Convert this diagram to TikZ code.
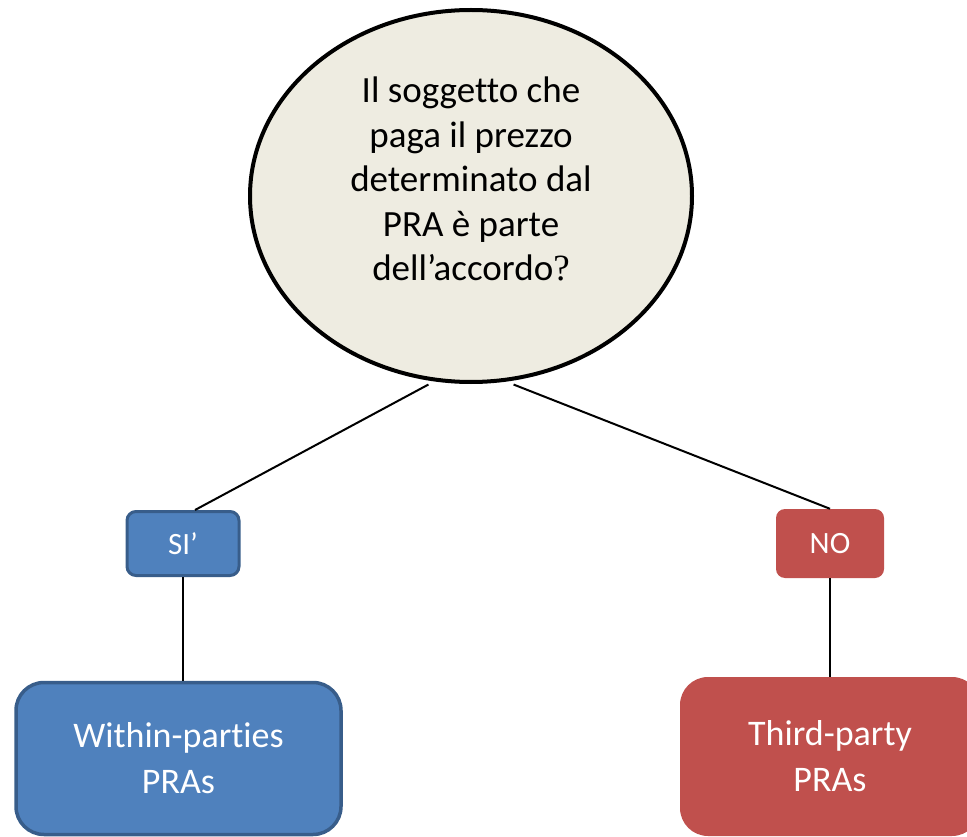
\documentclass[tikz,border=0pt]{standalone}
\usepackage{fontspec}
\setmainfont{Carlito}[Ligatures=NoCommon]
\newfontfamily\qmarkfont{Liberation Serif}
\usetikzlibrary{positioning,shapes}

\definecolor{qfill}{HTML}{EEECE1}
\definecolor{sifill}{HTML}{4F81BD}
\definecolor{sidraw}{HTML}{385D8A}
\definecolor{nofill}{HTML}{C0504D}

\tikzset{
  answer/.style={rectangle, rounded corners=9pt, inner sep=0pt, text=white,
    font=\fontsize{31}{36}\selectfont},
  result/.style={rectangle, rounded corners=28pt, inner sep=0pt, text=white, align=center,
    font=\fontsize{36}{46}\selectfont},
  link/.style={line width=2pt}
}

\begin{document}
\begin{tikzpicture}[x=1pt,y=-1pt]
\useasboundingbox (0,0) rectangle (967,837);
\node[ellipse, draw, line width=4pt, fill=qfill, minimum width=442pt, minimum height=372pt] (q) at (471,196){};
\node[align=center, font=\fontsize{37}{44.5}\selectfont] (qtxt) at (471,179){Il soggetto che\\paga il prezzo\\determinato dal\\PRA è parte\\dell’accordo{\qmarkfont ?}};
\node[answer, fill=sifill, draw=sidraw, line width=3pt, minimum width=112pt, minimum height=64pt] (si) at (183,543.5){SI’};
\node[answer, fill=nofill, minimum width=108pt, minimum height=69pt] (no) at (830,543.5){NO};
\node[result, fill=sifill, draw=sidraw, line width=3.5pt, minimum width=325pt, minimum height=152pt] (wp) at (178.5,758.5){Within-parties\\PRAs};
\node[result, fill=nofill, minimum width=300pt, minimum height=159pt] (tp) at (830,756.5){Third-party\\PRAs};
\draw[link] ([yshift=-4pt]q.-103) -- ([xshift=12pt]si.north);
\draw[link] ([yshift=-4pt]q.-77) -- (no.north);
\draw[link] (si.south) -- (si.south |- wp.north);
\draw[link] (no.south) -- (no.south |- tp.north);
\end{tikzpicture}
\end{document}
